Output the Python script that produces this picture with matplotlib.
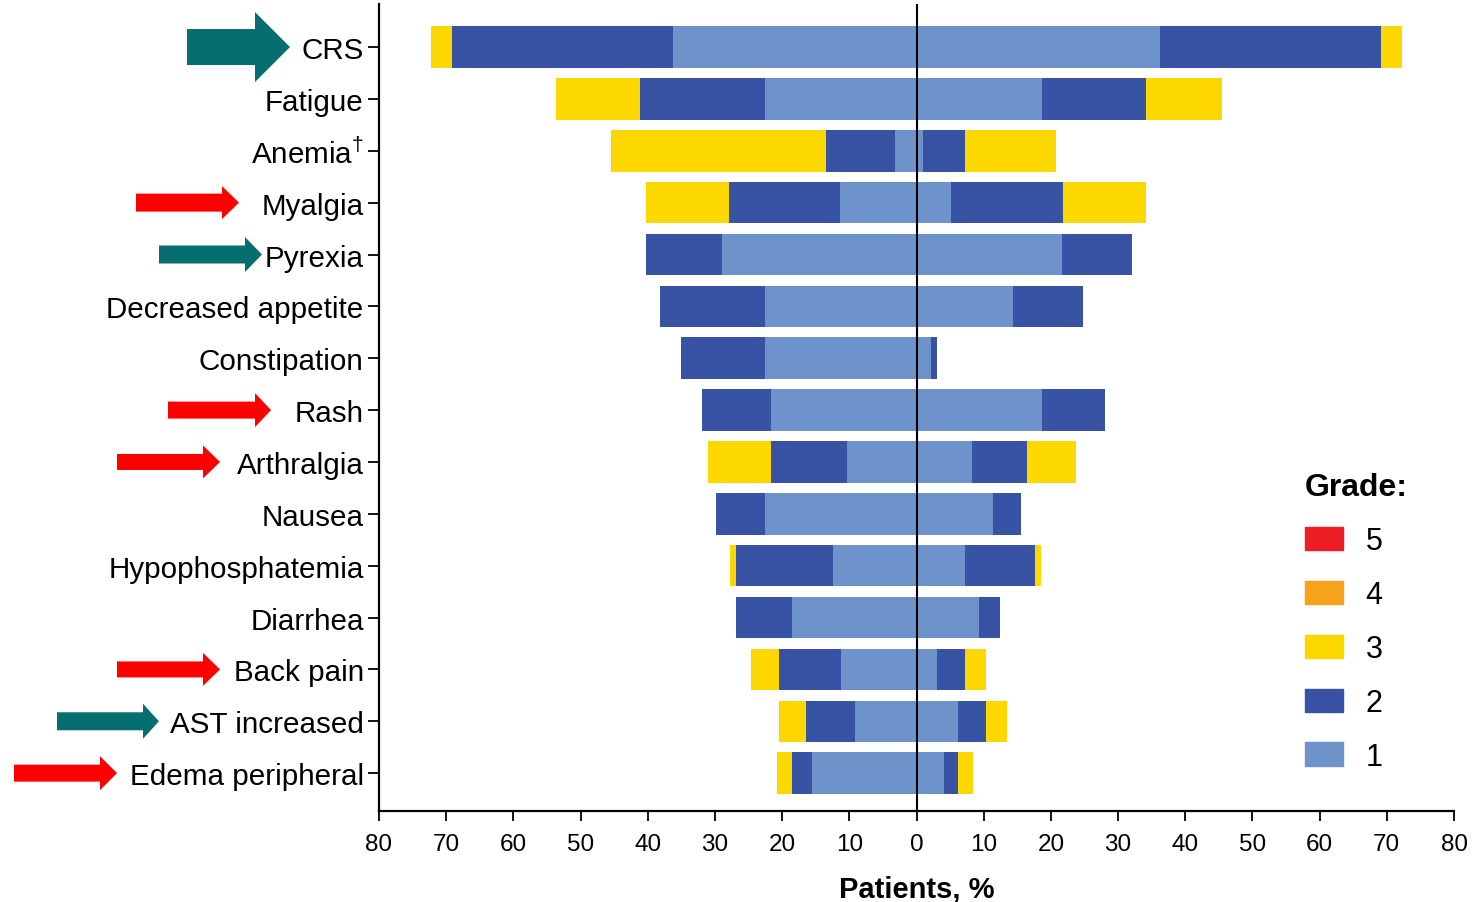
import matplotlib
matplotlib.use("Agg")
import matplotlib.pyplot as plt
import matplotlib.transforms as mtransforms
from matplotlib.patches import Patch, Polygon

plt.rcParams['font.family'] = ['Liberation Sans', 'DejaVu Sans']
plt.rcParams['mathtext.fontset'] = 'custom'
plt.rcParams['mathtext.rm'] = 'Liberation Sans'

# data (% patients), left and right cohorts, grade by grade
events = ['CRS', 'Fatigue', 'Anemia$^{\\dagger}$', 'Myalgia', 'Pyrexia',
          'Decreased appetite', 'Constipation', 'Rash', 'Arthralgia', 'Nausea',
          'Hypophosphatemia', 'Diarrhea', 'Back pain', 'AST increased',
          'Edema peripheral']

left_g1 = [36.2, 22.6, 3.2, 11.4, 28.9, 22.6, 22.6, 21.6, 10.3, 22.6, 12.4, 18.6, 11.3, 9.2, 15.5]
left_g2 = [32.9, 18.6, 10.3, 16.5, 11.4, 15.6, 12.5, 10.4, 11.3, 7.3, 14.4, 8.2, 9.2, 7.3, 3.1]
left_g3 = [3.2, 12.5, 32.0, 12.4, 0, 0, 0, 0, 9.4, 0, 1.0, 0, 4.2, 4.0, 2.1]
left_g4 = [0] * 15
left_g5 = [0] * 15

right_g1 = [36.2, 18.7, 1.0, 5.1, 21.6, 14.4, 2.2, 18.7, 8.3, 11.4, 7.2, 9.3, 3.1, 6.2, 4.1]
right_g2 = [32.9, 15.5, 6.2, 16.7, 10.4, 10.4, 0.9, 9.3, 8.2, 4.1, 10.4, 3.1, 4.1, 4.2, 2.1]
right_g3 = [3.2, 11.3, 13.5, 12.4, 0, 0, 0, 0, 7.3, 0, 0.9, 0, 3.1, 3.1, 2.2]
right_g4 = [0] * 15
right_g5 = [0] * 15

grades = ['1', '2', '3', '4', '5']
colors = ['#6E93CB', '#3953A4', '#FDD700', '#F7A21B', '#EE1D24']

xticks = [-80, -70, -60, -50, -40, -30, -20, -10, 0, 10, 20, 30, 40, 50, 60, 70, 80]
xticklabels = ['80', '70', '60', '50', '40', '30', '20', '10', '0',
               '10', '20', '30', '40', '50', '60', '70', '80']

# arrows: (row, tail px, head base px, tip px, shaft half px, head half px, colour)
teal = '#066E6E'
red = '#FF0000'
arrows = [(0, 187, 255, 290, 18, 35, teal),
          (3, 136, 222, 239, 9, 16.5, red),
          (4, 159, 245, 262, 9, 17.5, teal),
          (7, 168, 255, 271, 8.5, 17, red),
          (8, 117, 203, 220, 8, 16.5, red),
          (12, 117, 203, 220, 8, 16.5, red),
          (13, 57, 143, 159, 9, 17.5, teal),
          (14, 14, 100, 117, 8.5, 17, red)]

W, H = 1472, 903
fig = plt.figure(figsize=(W / 100, H / 100), dpi=100)
ax = fig.add_axes([379 / W, 1 - 812 / H, (1454 - 379) / W, (812 - 5) / H])

y = list(range(len(events)))
left = [left_g1, left_g2, left_g3, left_g4, left_g5]
right = [right_g1, right_g2, right_g3, right_g4, right_g5]

cum_l = [0.0] * len(events)
cum_r = [0.0] * len(events)
for g in range(5):
    ax.barh(y, [-v for v in left[g]], left=[-c for c in cum_l], height=0.8,
            color=colors[g], linewidth=0)
    ax.barh(y, right[g], left=cum_r, height=0.8, color=colors[g], linewidth=0)
    cum_l = [c + v for c, v in zip(cum_l, left[g])]
    cum_r = [c + v for c, v in zip(cum_r, right[g])]

ax.axvline(0, color='black', lw=1.5, zorder=3)

ax.set_xlim(-80, 80)
ax.set_ylim(14.73, -0.83)
ax.set_xticks(xticks)
ax.set_xticklabels(xticklabels, fontsize=17.5)
ax.set_yticks(y)
ax.set_yticklabels(events, fontsize=21.3)
ax.tick_params(axis='x', length=7, width=1.3, pad=9)
ax.tick_params(axis='y', length=8, width=1.3, pad=3)
ax.set_xlabel('Patients, %', fontsize=21, fontweight='bold', labelpad=14)

for side in ['top', 'right']:
    ax.spines[side].set_visible(False)
for side in ['left', 'bottom']:
    ax.spines[side].set_linewidth(1.6)

# arrows next to the labels
row_px = (812 - 5) / (14.73 + 0.83)
trans = mtransforms.blended_transform_factory(fig.transFigure, ax.transData)
for row, x0, x1, x2, sh, hh, c in arrows:
    s, h = sh / row_px, hh / row_px
    pts = [(x0 / W, row - s), (x1 / W, row - s), (x1 / W, row - h), (x2 / W, row),
           (x1 / W, row + h), (x1 / W, row + s), (x0 / W, row + s)]
    ax.add_patch(Polygon(pts, closed=True, color=c, lw=0, transform=trans, clip_on=False))

# legend
handles = [Patch(color=colors[g], label=grades[g]) for g in range(4, -1, -1)]
leg = fig.legend(handles=handles, loc='upper left', bbox_to_anchor=(1277 / W, 1 - 446 / H),
                 frameon=False, fontsize=22, title='Grade:',
                 title_fontproperties={'weight': 'bold', 'size': 23},
                 handlelength=1.25, handleheight=0.8, handletextpad=0.75,
                 labelspacing=0.78, alignment='left')

fig.savefig('out.png', dpi=100)
